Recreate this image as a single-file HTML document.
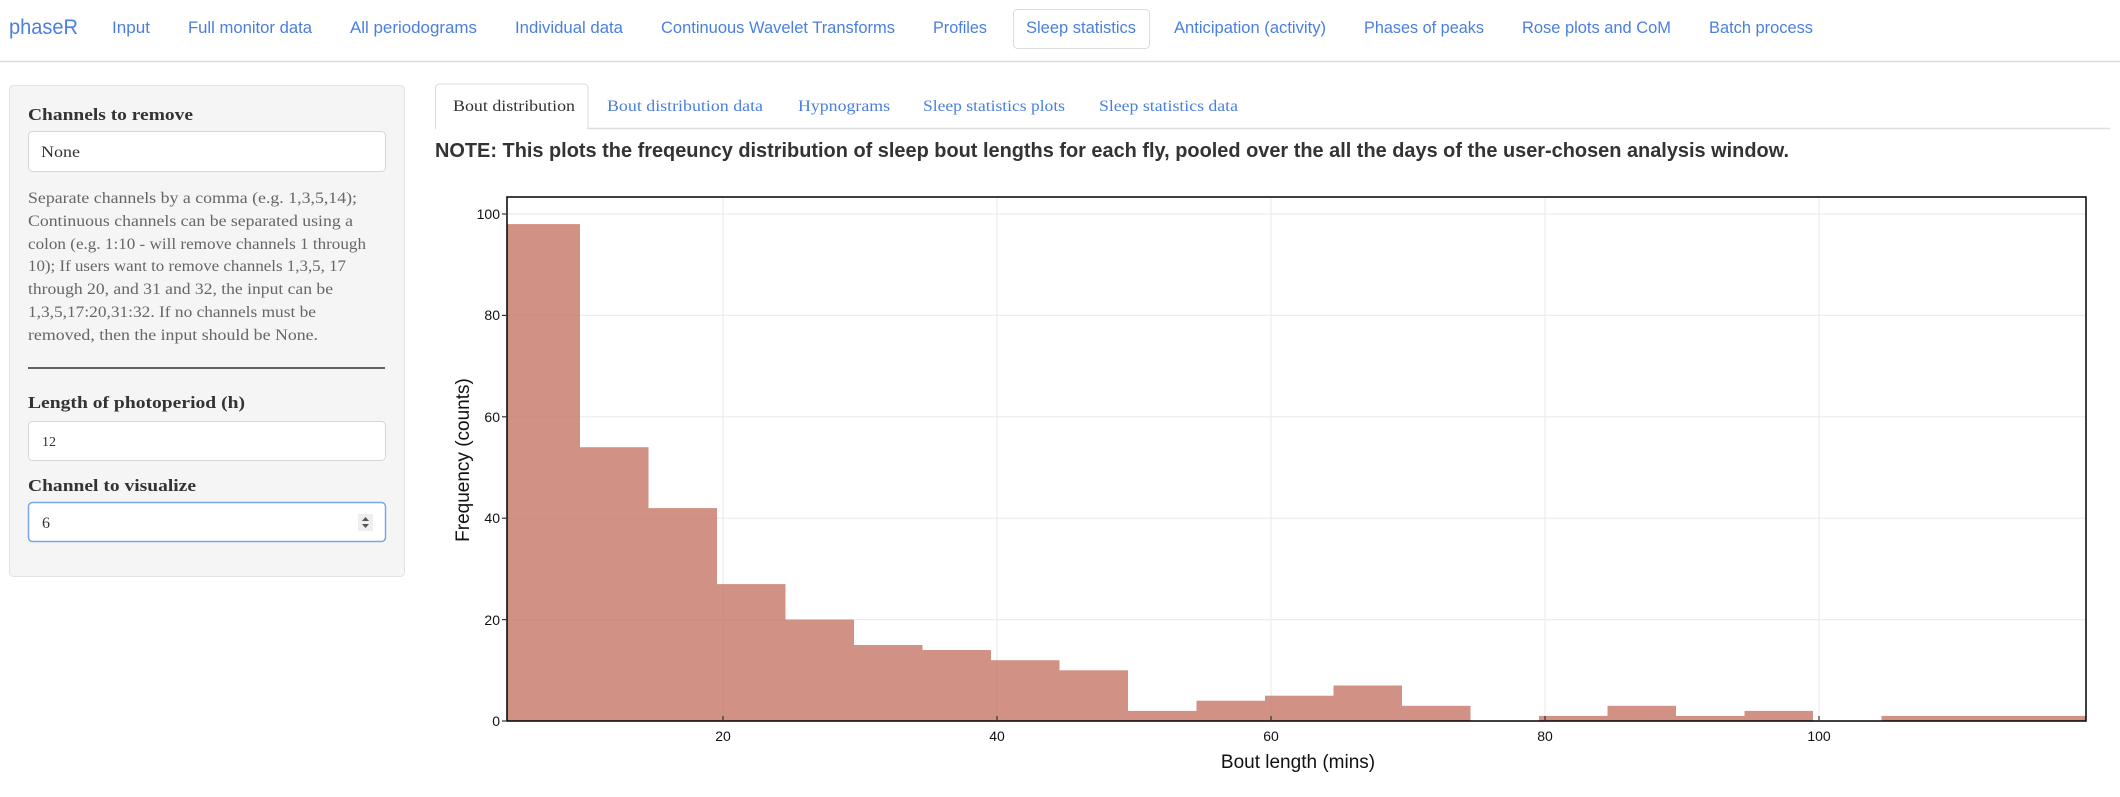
<!DOCTYPE html>
<html><head><meta charset="utf-8"><style>
html,body{margin:0;padding:0;background:#fff;width:2120px;height:797px;overflow:hidden}
svg{display:block}
</style></head><body>
<svg width="2120" height="797" viewBox="0 0 2120 797" xmlns="http://www.w3.org/2000/svg">
<!-- navbar -->
<line x1="0" y1="61.5" x2="2120" y2="61.5" stroke="#dcdcdc" stroke-width="1.5"/>
<g font-family="Liberation Sans, sans-serif" fill="#4a7fe0" font-size="17">
<text x="9" y="34" font-size="21" textLength="69" lengthAdjust="spacingAndGlyphs">phaseR</text>
<text x="112" y="33" textLength="38" lengthAdjust="spacingAndGlyphs">Input</text>
<text x="188" y="33" textLength="124" lengthAdjust="spacingAndGlyphs">Full monitor data</text>
<text x="350" y="33" textLength="127" lengthAdjust="spacingAndGlyphs">All periodograms</text>
<text x="515" y="33" textLength="108" lengthAdjust="spacingAndGlyphs">Individual data</text>
<text x="661" y="33" textLength="234" lengthAdjust="spacingAndGlyphs">Continuous Wavelet Transforms</text>
<text x="933" y="33" textLength="54" lengthAdjust="spacingAndGlyphs">Profiles</text>
<rect x="1013.5" y="9.5" width="136" height="39" rx="4" fill="#fff" stroke="#dcdcdc"/>
<text x="1026" y="33" textLength="110" lengthAdjust="spacingAndGlyphs">Sleep statistics</text>
<text x="1174" y="33" textLength="152" lengthAdjust="spacingAndGlyphs">Anticipation (activity)</text>
<text x="1364" y="33" textLength="120" lengthAdjust="spacingAndGlyphs">Phases of peaks</text>
<text x="1522" y="33" textLength="149" lengthAdjust="spacingAndGlyphs">Rose plots and CoM</text>
<text x="1709" y="33" textLength="104" lengthAdjust="spacingAndGlyphs">Batch process</text>
</g>
<!-- sidebar -->
<rect x="9.5" y="85.5" width="395" height="491" rx="4" fill="#f5f5f5" stroke="#e3e3e3"/>
<g font-family="Liberation Serif, serif" fill="#333">
<text x="28" y="120" font-size="17" font-weight="bold" textLength="165" lengthAdjust="spacingAndGlyphs">Channels to remove</text>
<rect x="28.5" y="131.5" width="357" height="40" rx="4" fill="#fff" stroke="#d6d6d6"/>
<text x="41" y="157" font-size="16" textLength="39" lengthAdjust="spacingAndGlyphs">None</text>
<g font-size="16" fill="#666">
<text x="28" y="203" textLength="329" lengthAdjust="spacingAndGlyphs">Separate channels by a comma (e.g. 1,3,5,14);</text>
<text x="28" y="226" textLength="325" lengthAdjust="spacingAndGlyphs">Continuous channels can be separated using a</text>
<text x="28" y="249" textLength="338" lengthAdjust="spacingAndGlyphs">colon (e.g. 1:10 - will remove channels 1 through</text>
<text x="28" y="271" textLength="318" lengthAdjust="spacingAndGlyphs">10); If users want to remove channels 1,3,5, 17</text>
<text x="28" y="294" textLength="305" lengthAdjust="spacingAndGlyphs">through 20, and 31 and 32, the input can be</text>
<text x="28" y="317" textLength="288" lengthAdjust="spacingAndGlyphs">1,3,5,17:20,31:32. If no channels must be</text>
<text x="28" y="340" textLength="290" lengthAdjust="spacingAndGlyphs">removed, then the input should be None.</text>
</g>
<line x1="28" y1="368" x2="385" y2="368" stroke="#333" stroke-width="1.5"/>
<text x="28" y="408" font-size="17" font-weight="bold" textLength="217" lengthAdjust="spacingAndGlyphs">Length of photoperiod (h)</text>
<rect x="28.5" y="421.5" width="357" height="39" rx="4" fill="#fff" stroke="#d6d6d6"/>
<text x="42" y="446" font-size="14">12</text>
<text x="28" y="491" font-size="17" font-weight="bold" textLength="168" lengthAdjust="spacingAndGlyphs">Channel to visualize</text>
<rect x="28.5" y="502.5" width="357" height="39" rx="4" fill="#fff" stroke="#7aa7ec" stroke-width="1.5"/>
<text x="42" y="528" font-size="16">6</text>
<rect x="358" y="514" width="15" height="17" fill="#eee"/>
<path d="M362 521 L365.5 517 L369 521 Z M362 524 L365.5 528 L369 524 Z" fill="#555"/>
</g>
<!-- tabs -->
<line x1="435" y1="128.5" x2="2110" y2="128.5" stroke="#dcdcdc" stroke-width="1.5"/>
<path d="M435.5 128.5 V88 a4 4 0 0 1 4 -4 H584 a4 4 0 0 1 4 4 V128.5" fill="#fff" stroke="#dcdcdc"/>
<rect x="436" y="126" width="151" height="4" fill="#fff"/>
<g font-family="Liberation Serif, serif" font-size="16">
<text x="453" y="111" fill="#333" textLength="122" lengthAdjust="spacingAndGlyphs">Bout distribution</text>
<g fill="#4a7fe0">
<text x="607" y="111" textLength="156" lengthAdjust="spacingAndGlyphs">Bout distribution data</text>
<text x="798" y="111" textLength="92" lengthAdjust="spacingAndGlyphs">Hypnograms</text>
<text x="923" y="111" textLength="142" lengthAdjust="spacingAndGlyphs">Sleep statistics plots</text>
<text x="1099" y="111" textLength="139" lengthAdjust="spacingAndGlyphs">Sleep statistics data</text>
</g></g>
<text x="435" y="157" font-family="Liberation Sans, sans-serif" font-weight="bold" font-size="20" fill="#333" textLength="1354" lengthAdjust="spacingAndGlyphs">NOTE: This plots the freqeuncy distribution of sleep bout lengths for each fly, pooled over the all the days of the user-chosen analysis window.</text>
<!-- plot -->
<g stroke="#ececec" stroke-width="1.2">
<line x1="507" x2="2086" y1="214" y2="214"/>
<line x1="507" x2="2086" y1="315.4" y2="315.4"/>
<line x1="507" x2="2086" y1="416.8" y2="416.8"/>
<line x1="507" x2="2086" y1="518.2" y2="518.2"/>
<line x1="507" x2="2086" y1="619.6" y2="619.6"/>
<line x1="723" x2="723" y1="197" y2="721"/>
<line x1="997" x2="997" y1="197" y2="721"/>
<line x1="1271" x2="1271" y1="197" y2="721"/>
<line x1="1545" x2="1545" y1="197" y2="721"/>
<line x1="1819" x2="1819" y1="197" y2="721"/>
</g>
<g fill="#c57767" fill-opacity="0.8">
<rect x="507" y="224.1" width="73" height="496.9"/>
<rect x="580" y="447.2" width="68.5" height="273.8"/>
<rect x="648.5" y="508.1" width="68.5" height="212.9"/>
<rect x="717" y="584.1" width="68.5" height="136.9"/>
<rect x="785.5" y="619.6" width="68.5" height="101.4"/>
<rect x="854" y="645" width="68.5" height="76"/>
<rect x="922.5" y="650" width="68.5" height="71"/>
<rect x="991" y="660.2" width="68.5" height="60.8"/>
<rect x="1059.5" y="670.3" width="68.5" height="50.7"/>
<rect x="1128" y="710.9" width="68.5" height="10.1"/>
<rect x="1196.5" y="700.7" width="68.5" height="20.3"/>
<rect x="1265" y="695.7" width="68.5" height="25.3"/>
<rect x="1333.5" y="685.5" width="68.5" height="35.5"/>
<rect x="1402" y="705.8" width="68.5" height="15.2"/>
<rect x="1539" y="715.9" width="68.5" height="5.1"/>
<rect x="1607.5" y="705.8" width="68.5" height="15.2"/>
<rect x="1676" y="715.9" width="68.5" height="5.1"/>
<rect x="1744.5" y="710.9" width="68.5" height="10.1"/>
<rect x="1881.5" y="715.9" width="204.5" height="5.1"/>
</g>
<rect x="507" y="197" width="1579" height="524" fill="none" stroke="#000" stroke-width="1.5"/>
<g stroke="#333" stroke-width="1.2">
<line x1="502" x2="507" y1="214" y2="214"/><line x1="502" x2="507" y1="315.4" y2="315.4"/>
<line x1="502" x2="507" y1="416.8" y2="416.8"/><line x1="502" x2="507" y1="518.2" y2="518.2"/>
<line x1="502" x2="507" y1="619.6" y2="619.6"/><line x1="502" x2="507" y1="721" y2="721"/>
<line x1="723" x2="723" y1="716" y2="721"/><line x1="997" x2="997" y1="716" y2="721"/>
<line x1="1271" x2="1271" y1="716" y2="721"/><line x1="1545" x2="1545" y1="716" y2="721"/>
<line x1="1819" x2="1819" y1="716" y2="721"/>
</g>
<g font-family="Liberation Sans, sans-serif" font-size="14" fill="#111">
<g text-anchor="end">
<text x="500" y="219">100</text><text x="500" y="320">80</text><text x="500" y="422">60</text>
<text x="500" y="523">40</text><text x="500" y="625">20</text><text x="500" y="726">0</text>
</g>
<g text-anchor="middle">
<text x="723" y="741">20</text><text x="997" y="741">40</text><text x="1271" y="741">60</text>
<text x="1545" y="741">80</text><text x="1819" y="741">100</text>
</g>
<text x="1298" y="768" font-size="19" text-anchor="middle">Bout length (mins)</text>
<text transform="translate(469 460) rotate(-90)" font-size="19" text-anchor="middle">Frequency (counts)</text>
</g>
</svg>
</body></html>
